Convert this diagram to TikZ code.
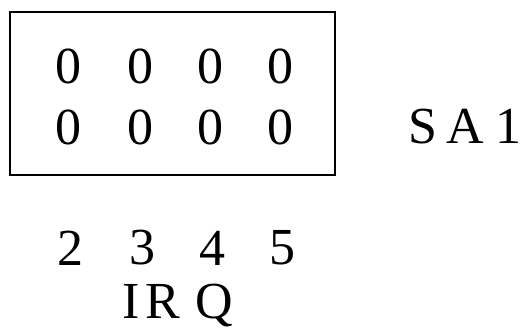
\documentclass[tikz,border=0pt]{standalone}
\usepackage{fontspec}
\setmainfont{Liberation Serif}
\usetikzlibrary{positioning}

\begin{document}
\begin{tikzpicture}[
  x=1pt, y=-1pt,
  every node/.style={inner sep=0pt, font=\fontsize{52}{52}\selectfont},
  bit/.style={anchor=center},
  jumper/.style={draw, line width=1.6pt}
]
\useasboundingbox (0,0) rectangle (528,331);
\draw[jumper] (10,12) rectangle (335,175);
\foreach \c/\x in {a/68,b/140,c/210,d/280} {
  \node[bit] (top\c) at (\x,66) {0};
  \node[bit] (bot\c) at (\x,127) {0};
}
\node[anchor=west] (sa) at (408,127) {S\hspace{9pt}A\hspace{12pt}1};
\node[bit] (n2) at (70,248) {2};
\node[bit] (n3) at (142,248) {3};
\node[bit] (n4) at (212,248) {4};
\node[bit] (n5) at (282,248) {5};
\node[anchor=west] (irq) at (122,306) {I\hspace{6pt}R\hspace{15pt}Q};
\end{tikzpicture}
\end{document}
